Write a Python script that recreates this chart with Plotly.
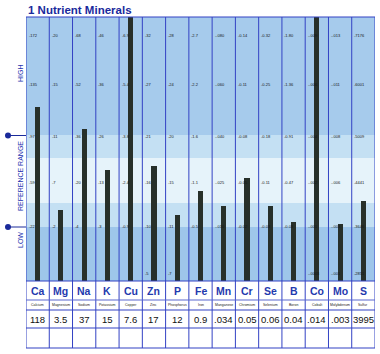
import plotly.graph_objects as go

# ---------------- data ----------------
minerals = ["Ca", "Mg", "Na", "K", "Cu", "Zn", "P", "Fe", "Mn", "Cr", "Se", "B", "Co", "Mo", "S"]
mineral_names = ["Calcium", "Magnesium", "Sodium", "Potassium", "Copper", "Zinc", "Phosphorus",
                 "Iron", "Manganese", "Chromium", "Selenium", "Boron", "Cobalt", "Molybdenum", "Sulfur"]
results = ["118", "3.5", "37", "15", "7.6", "17", "12", "0.9", ".034", "0.05", "0.06", "0.04",
           ".014", ".003", "3995"]
# bar top on the chart's 0-100 vertical scale (bottom of chart = 0, top frame = 100)
bar_level = [65.9, 26.9, 57.6, 42.0, 100.0, 43.6, 25.0, 34.1, 28.4, 39.0, 28.4, 22.3, 101.9, 21.6, 30.3]

# per-column scale labels, top row to bottom row
scale_ca = ["172", "135", "97", "59", "22", ""]
scale_mg = ["20", "15", "11", "7", "2", ""]
scale_na = ["68", "52", "36", "20", "4", ""]
scale_k = ["46", "36", "26", "13", "3", ""]
scale_cu = ["6.9", "5.4", "3.8", "2.4", "0.9", ""]
scale_zn = ["32", "27", "21", "16", "10", "5"]
scale_p = ["28", "24", "20", "15", "11", "7"]
scale_fe = ["2.7", "2.2", "1.6", "1.1", "0.5", ""]
scale_mn = [".080", ".060", ".040", ".025", ".010", ""]
scale_cr = ["0.14", "0.11", "0.08", "0.05", "0.02", ""]
scale_se = ["0.32", "0.25", "0.18", "0.11", "0.03", ""]
scale_b = ["1.80", "1.36", "0.91", "0.47", "0.03", ""]
scale_co = [".009", ".006", ".004", ".002", ".001", ".0003"]
scale_mo = [".013", ".011", ".008", ".006", ".003", ".001"]
scale_s = ["7176", "6001", "5009", "4441", "3646", "2851"]
scale_labels = [scale_ca, scale_mg, scale_na, scale_k, scale_cu, scale_zn, scale_p, scale_fe,
                scale_mn, scale_cr, scale_se, scale_b, scale_co, scale_mo, scale_s]

# zone boundaries on the same 0-100 scale
zone_edges = [0, 20.5, 29.5, 46.6, 55.3, 100]

# ---------------- layout helpers ----------------
W, H = 380, 354
PL, PR, PT, PB = 26, 375, 17, 281  # plot area in pixels


def py(p):
    return (H - p) / H


def px(p):
    return p / W


BLUE_LINE = "#3342c4"
TXT_BLUE = "#1f3aae"
zone_colors = ["#9ec6ea", "#c4e0f3", "#e6f3fa", "#c4e0f3", "#a6cbec"]

fig = go.Figure()
fig.add_trace(go.Bar(
    x=list(range(len(minerals))), y=bar_level, width=0.22,
    marker=dict(color="#27302a", line=dict(width=0)),
    cliponaxis=False, hoverinfo="skip"))

shapes = []
# background zones
for i in range(len(zone_colors)):
    shapes.append(dict(type="rect", xref="paper", yref="y", x0=px(PL), x1=px(PR),
                       y0=zone_edges[i], y1=zone_edges[i + 1], fillcolor=zone_colors[i],
                       line=dict(width=0), layer="below"))
# vertical column lines
for b in range(len(minerals) + 1):
    shapes.append(dict(type="line", xref="x", yref="paper", x0=b - 0.5, x1=b - 0.5,
                       y0=py(348), y1=py(PT), line=dict(color=BLUE_LINE, width=1), layer="above"))
# horizontal lines
for yy, col in [(PT, BLUE_LINE), (PB, BLUE_LINE), (300, "#5a68d0"), (310, BLUE_LINE),
                (328, BLUE_LINE), (348, BLUE_LINE)]:
    shapes.append(dict(type="line", xref="paper", yref="paper", x0=px(PL), x1=px(PR),
                       y0=py(yy), y1=py(yy), line=dict(color=col, width=1.2), layer="above"))
# left markers
for yy in (135.5, 227):
    shapes.append(dict(type="line", xref="paper", yref="paper", x0=px(8), x1=px(PL),
                       y0=py(yy), y1=py(yy), line=dict(color="#1a2a9a", width=1)))
    shapes.append(dict(type="circle", xref="paper", yref="paper", x0=px(5), x1=px(11),
                       y0=py(yy + 3), y1=py(yy - 3), fillcolor="#1a2a9a",
                       line=dict(color="#1a2a9a", width=0)))

ann = []
ann.append(dict(text="<b>1 Nutrient Minerals</b>", xref="paper", yref="paper", x=px(26), y=py(10),
                xanchor="left", yanchor="middle", showarrow=False,
                font=dict(family="Liberation Sans, Arial", size=11.5, color="#1a2a9c")))
for txt, yy in [("HIGH", 73), ("REFERENCE RANGE", 176), ("LOW", 240)]:
    ann.append(dict(text=txt, xref="paper", yref="paper", x=px(20), y=py(yy), textangle=-90,
                    showarrow=False, xanchor="center", yanchor="middle",
                    font=dict(family="Liberation Sans Narrow, Arial Narrow, Liberation Sans", size=7,
                              color="#2233b0")))

level_px = [35, 85, 136, 183, 227, 273]
for i, labs in enumerate(scale_labels):
    for lab, yy in zip(labs, level_px):
        if lab:
            ann.append(dict(text="-" + lab, xref="x", yref="paper", x=i - 0.5, y=py(yy), xshift=0.5,
                            xanchor="left", yanchor="middle", showarrow=False,
                            font=dict(family="Liberation Sans", size=4, color="#151515")))

for i in range(len(minerals)):
    ann.append(dict(text="<b>" + minerals[i] + "</b>", xref="x", yref="paper", x=i, y=py(290.5),
                    showarrow=False, xanchor="center", yanchor="middle",
                    font=dict(family="Liberation Sans, Arial", size=10.5, color=TXT_BLUE)))
    ann.append(dict(text=mineral_names[i], xref="x", yref="paper", x=i, y=py(305),
                    showarrow=False, xanchor="center", yanchor="middle",
                    font=dict(family="Liberation Sans", size=3.5, color="#222222")))
    ann.append(dict(text=results[i], xref="x", yref="paper", x=i, y=py(319.5),
                    showarrow=False, xanchor="center", yanchor="middle",
                    font=dict(family="Liberation Sans, Arial", size=9.5, color="#111111")))

fig.update_layout(
    width=W, height=H, margin=dict(l=0, r=0, t=0, b=0),
    paper_bgcolor="white", plot_bgcolor="white", showlegend=False,
    xaxis=dict(domain=[px(PL), px(PR)], range=[-0.5, len(minerals) - 0.5], showgrid=False,
               zeroline=False, showticklabels=False, ticks=""),
    yaxis=dict(domain=[py(PB), py(PT)], range=[0, 100], showgrid=False, zeroline=False,
               showticklabels=False, ticks=""),
    shapes=shapes, annotations=ann, bargap=0,
)

fig.write_html("out.html")
